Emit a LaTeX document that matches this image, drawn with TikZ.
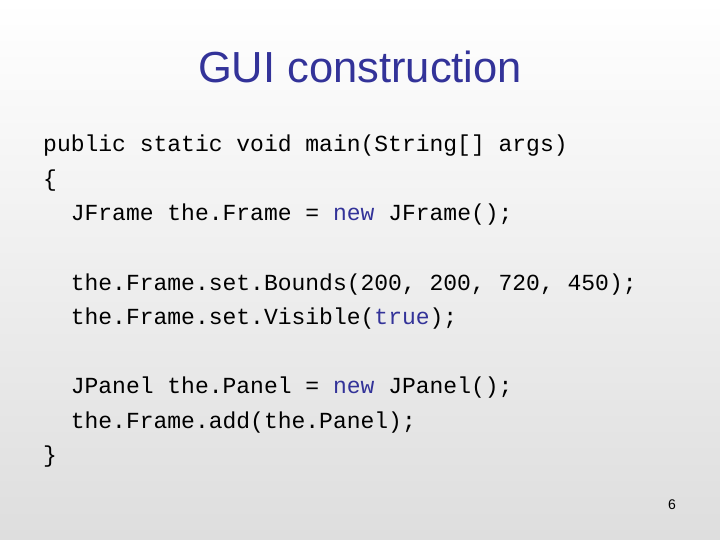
\documentclass[tikz,border=0pt]{standalone}
\usepackage{fontspec}
\setmainfont{Liberation Sans}
\newfontfamily\codefont{Liberation Mono}
\definecolor{kw}{HTML}{333399}
\begin{document}
\begin{tikzpicture}[x=1pt,y=-1pt,
  code/.style={anchor=base west,inner sep=0pt,font=\codefont\fontsize{23}{28}\selectfont}]
\shade[top color=white,bottom color=black!13] (0,0) rectangle (720,540);
\useasboundingbox (0,0) rectangle (720,540);
\node[font=\fontsize{43.5}{48}\selectfont,text=kw,anchor=base] (title) at (360,83) {GUI construction};
\node[code] (l1) at (43,152) {public static void main(String[] args)};
\node[code] (l2) at (43,186.5) {\{};
\node[code] (l3) at (43,221) {\ \ JFrame the.Frame = \textcolor{kw}{new} JFrame();};
\node[code] (l4) at (43,290) {\ \ the.Frame.set.Bounds(200, 200, 720, 450);};
\node[code] (l5) at (43,324.5) {\ \ the.Frame.set.Visible(\textcolor{kw}{true});};
\node[code] (l6) at (43,393.5) {\ \ JPanel the.Panel = \textcolor{kw}{new} JPanel();};
\node[code] (l7) at (43,428) {\ \ the.Frame.add(the.Panel);};
\node[code] (l8) at (43,462.5) {\}};
\node[font=\fontsize{14}{16}\selectfont,anchor=base] (num) at (672,509) {6};
\end{tikzpicture}
\end{document}
